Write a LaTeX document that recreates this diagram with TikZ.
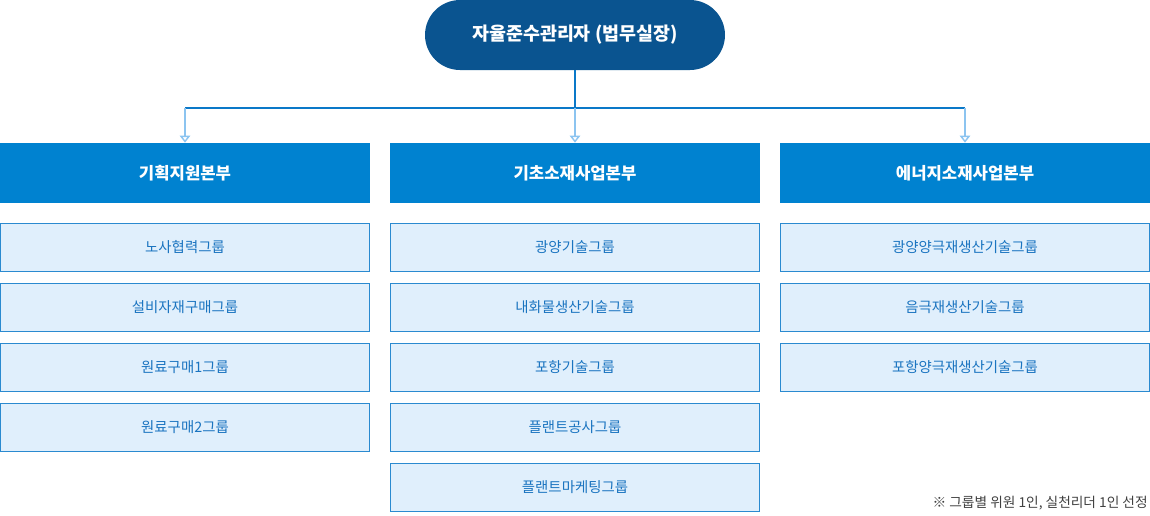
\documentclass[tikz,border=0pt]{standalone}
\usepackage{fontspec}
\setmainfont{Noto Sans CJK KR}
\usetikzlibrary{arrows.meta,positioning}
\definecolor{topblue}{HTML}{0A5490}
\definecolor{headblue}{HTML}{0082D0}
\definecolor{subfill}{HTML}{E0EFFC}
\definecolor{subline}{HTML}{2A8AD0}
\definecolor{subtext}{HTML}{1A74C0}
\definecolor{lineblue}{HTML}{0A78C8}
\definecolor{droplight}{HTML}{8CC4F0}
\tikzset{
  chief/.style={rounded corners=35*0.02cm, fill=topblue, text=white, font=\fontsize{10.5}{12}\selectfont\bfseries,
    minimum width=300*0.02cm, minimum height=70*0.02cm, inner sep=0pt},
  head/.style={fill=headblue, text=white, font=\fontsize{9.5}{11}\selectfont\bfseries,
    minimum width=370*0.02cm, minimum height=60*0.02cm, inner sep=0pt},
  group/.style={fill=subfill, draw=subline, line width=0.5pt, text=subtext, font=\fontsize{8.2}{10}\selectfont,
    minimum width=369*0.02cm, minimum height=48*0.02cm, inner sep=0pt},
  drop/.style={draw=droplight, line width=0.8pt, -{Triangle[open, fill=white, length=4pt, width=6pt]}},
}
\begin{document}
\begin{tikzpicture}[x=0.02cm,y=-0.02cm]
    \useasboundingbox (0,0) rectangle (1150,515);

    % Top node
    \node[chief] (chief) at (575,35) {자율준수관리자 (법무실장)};

    % Headquarters
    \node[head] (h1) at (185,173) {기획지원본부};
    \node[head] (h2) at (575,173) {기초소재사업본부};
    \node[head] (h3) at (965,173) {에너지소재사업본부};

    % Connectors
    \coordinate (bus) at (575,108);
    \coordinate (b1) at (185,108);
    \coordinate (b2) at (575,108);
    \coordinate (b3) at (965,108);
    \draw[lineblue, line width=0.8pt] (chief.south) -- (bus);
    \draw[lineblue, line width=0.8pt] (b1) -- (b3);
    \foreach \i in {1,2,3}
        \draw[drop] (b\i) -- (h\i.north);

    % Groups
    \foreach \t [count=\k] in {노사협력그룹,설비자재구매그룹,원료구매1그룹,원료구매2그룹}
        \node[group] (g1\k) at (185,{247.5+60*(\k-1)}) {\t};
    \foreach \t [count=\k] in {광양기술그룹,내화물생산기술그룹,포항기술그룹,플랜트공사그룹,플랜트마케팅그룹}
        \node[group] (g2\k) at (575,{247.5+60*(\k-1)}) {\t};
    \foreach \t [count=\k] in {광양양극재생산기술그룹,음극재생산기술그룹,포항양극재생산기술그룹}
        \node[group] (g3\k) at (965,{247.5+60*(\k-1)}) {\t};

    % Note
    \node[anchor=east, text=black!75, font=\fontsize{7.8}{9}\selectfont, inner sep=0pt] (note) at (1148,503) {※ 그룹별 위원 1인, 실천리더 1인 선정};
\end{tikzpicture}
\end{document}
